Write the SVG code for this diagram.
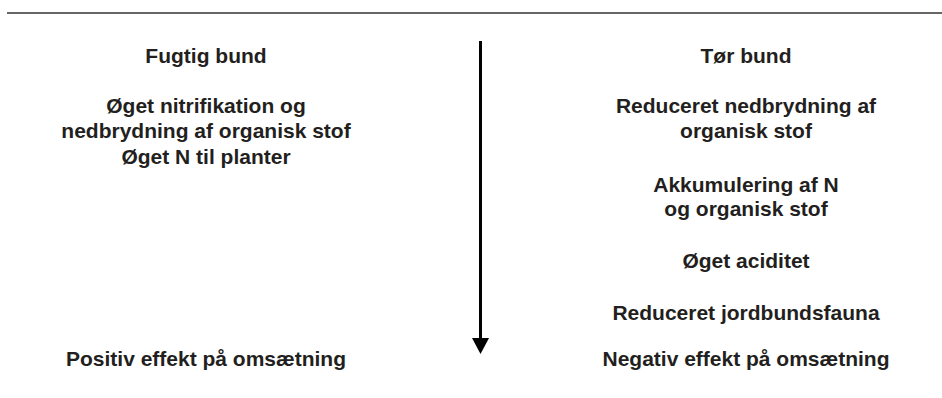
<svg xmlns="http://www.w3.org/2000/svg" width="942" height="398" viewBox="0 0 942 398">
<style>
.t{font-family:"Liberation Sans",Arial,sans-serif;font-weight:bold;font-size:21px;fill:#231f20;text-anchor:middle}
</style>
<rect width="942" height="398" fill="#fff"/>
<line id="rule" x1="7" y1="13" x2="942" y2="13" stroke="#666" stroke-width="2"/>
<g id="left">
<g id="fugtig"><text class="t" x="206" y="63">Fugtig bund</text></g>
<g id="nitrifikation"><text class="t" x="206" y="113">Øget nitrifikation og</text><text class="t" x="206" y="138">nedbrydning af organisk stof</text></g>
<g id="n-planter"><text class="t" x="206" y="164">Øget N til planter</text></g>
<g id="positiv"><text class="t" x="206" y="366">Positiv effekt på omsætning</text></g>
</g>
<g id="right">
<g id="tor"><text class="t" x="746" y="63">Tør bund</text></g>
<g id="reduceret-ned"><text class="t" x="746" y="113">Reduceret nedbrydning af</text><text class="t" x="746" y="138">organisk stof</text></g>
<g id="akkumulering"><text class="t" x="746" y="192">Akkumulering af N</text><text class="t" x="746" y="216">og organisk stof</text></g>
<g id="aciditet"><text class="t" x="746" y="268">Øget aciditet</text></g>
<g id="fauna"><text class="t" x="746" y="320">Reduceret jordbundsfauna</text></g>
<g id="negativ"><text class="t" x="746" y="366">Negativ effekt på omsætning</text></g>
</g>
<g id="connectors">
<line x1="480.5" y1="41" x2="480.5" y2="340" stroke="#000" stroke-width="3"/>
<polygon points="472,338 489,338 480.5,354" fill="#000"/>
</g>
</svg>
